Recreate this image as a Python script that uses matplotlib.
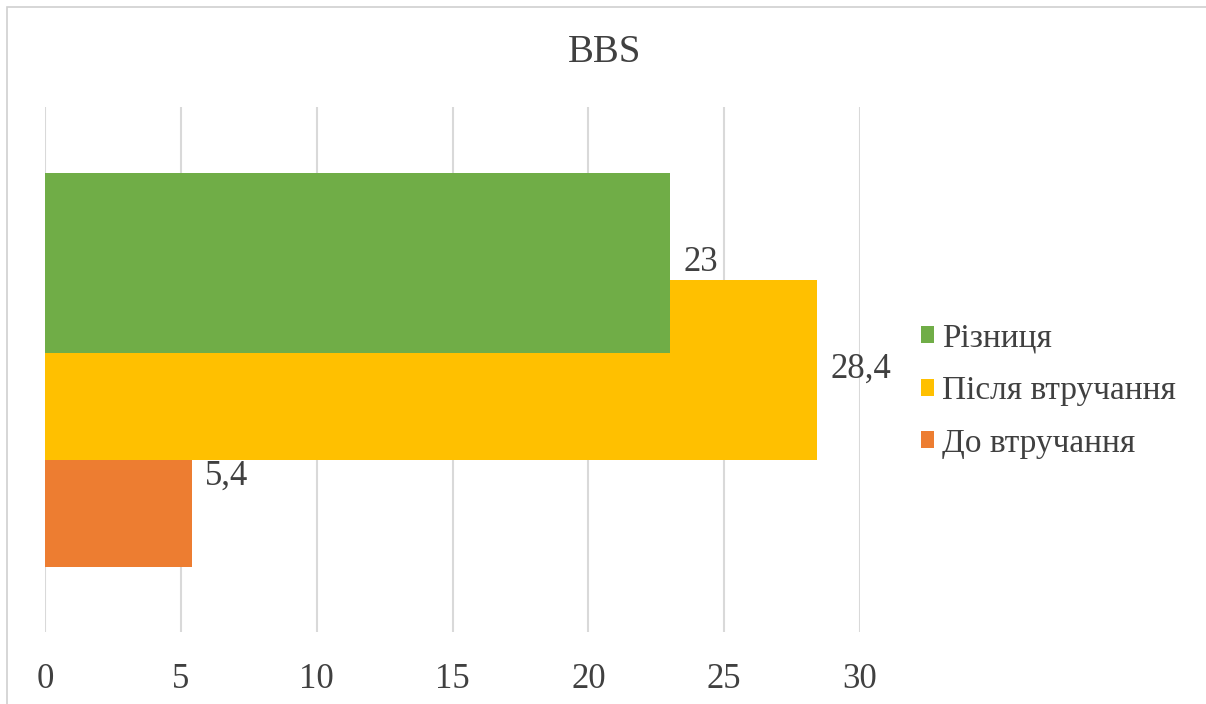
import matplotlib
matplotlib.use("Agg")
import matplotlib.pyplot as plt
from matplotlib.patches import Patch, Rectangle

plt.rcParams['font.family'] = ['Liberation Serif', 'DejaVu Serif']

title = "BBS"
series = ["До втручання", "Після втручання", "Різниця"]
values = [5.4, 28.4, 23]
value_labels = ["5,4", "28,4", "23"]
colors = ["#ED7D31", "#FFC000", "#70AD47"]
xticks = [0, 5, 10, 15, 20, 25, 30]

TEXT = "#404040"
W, H = 1206, 704
fig = plt.figure(figsize=(W / 100, H / 100), dpi=100)

# chart frame
fig.add_artist(Rectangle((7 / W, -0.1), 1.2, (H - 7) / H + 0.1, transform=fig.transFigure,
                         fill=False, edgecolor="#D0D0D0", linewidth=1.2))

ax = fig.add_axes([45 / W, (H - 632) / H, 815 / W, 525 / H])

bar_h = 180 / 525
offset = 107 / 525
positions = [-offset, 0.0, offset]
for i, (name, v, c, y) in enumerate(zip(series, values, colors, positions)):
    ax.barh(y, v, height=bar_h, color=c, zorder=2 + i, label=name)
    ax.text(v + 0.5, y, value_labels[i], va="center", ha="left",
            fontsize=25, color=TEXT, zorder=10)

ax.set_xlim(0, 30)
ax.set_ylim(-0.5, 0.5)
ax.set_xticks(xticks)
ax.set_xticklabels([str(t) for t in xticks], fontsize=25, color=TEXT)
ax.set_yticks([])
ax.tick_params(axis="x", length=0, pad=22)
ax.grid(axis="x", color="#D9D9D9", linewidth=1.5, zorder=0)
ax.set_axisbelow(True)
for s in ax.spines.values():
    s.set_visible(False)

fig.text(605 / W, 1 - 52 / H, title, ha="center", va="center", fontsize=28, color=TEXT)

handles = [Patch(facecolor=colors[i]) for i in (2, 1, 0)]
labels = [series[i] for i in (2, 1, 0)]
fig.legend(handles, labels, loc="center left", bbox_to_anchor=(921 / W, 1 - 391 / H),
           frameon=False, fontsize=24, labelcolor=TEXT, handlelength=0.4, handleheight=0.4,
           handletextpad=0.22, labelspacing=0.66, borderpad=0, borderaxespad=0)

fig.savefig("out.png", dpi=100, facecolor="white")
